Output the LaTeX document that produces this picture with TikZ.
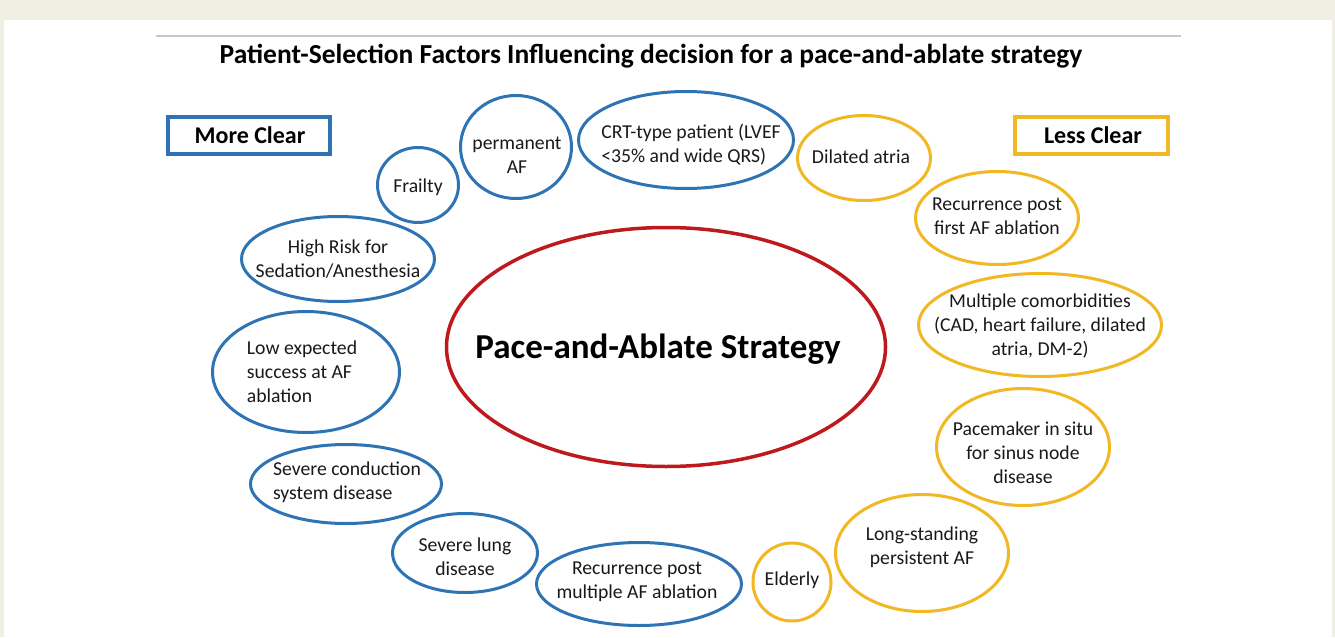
\documentclass[tikz,border=0pt]{standalone}
\usepackage{fontspec}
\setmainfont{Carlito}
\usetikzlibrary{shapes.geometric}
\definecolor{beige}{HTML}{F0EFE4}
\definecolor{pblue}{HTML}{2E74B5}
\definecolor{pgold}{HTML}{F2B824}
\definecolor{pred}{HTML}{BE1A1E}
\definecolor{rule}{HTML}{C8C8C8}
\tikzset{
  bub/.style={ellipse, draw, line width=3pt, inner sep=0pt},
  bluebub/.style={bub, draw=pblue},
  goldbub/.style={bub, draw=pgold},
  txt/.style={font=\fontsize{19.7}{24}\selectfont, align=center, inner sep=0pt, text=black!90},
  txtl/.style={txt, align=left},
  hdrbox/.style={draw, line width=4pt, minimum width=162pt, minimum height=37pt, inner sep=0pt},
  hdr/.style={font=\fontsize{24}{28}\bfseries\selectfont, inner sep=0pt}
}
\begin{document}
\begin{tikzpicture}[x=1pt,y=-1pt]
\useasboundingbox (0,0) rectangle (1335,637);
\fill[beige] (0,0) rectangle (1335,637);
\fill[white] (4,20) rectangle (1332,637);
\coordinate (ruleL) at (156,36);
\coordinate (ruleR) at (1181,36);
\draw[rule, line width=1.2pt] (ruleL) -- (ruleR);
\node[font=\fontsize{27.5}{32}\bfseries\selectfont, inner sep=0pt, anchor=base] (title) at (651,63) {Patient-Selection Factors Influencing decision for a pace-and-ablate strategy};

\node[hdrbox, draw=pblue] (moreBox) at (249,135) {};
\node[hdr, anchor=base] (moreTxt) at (250,143) {More Clear};
\node[hdrbox, draw=pgold, minimum width=153pt] (lessBox) at (1091,135) {};
\node[hdr, anchor=base] (lessTxt) at (1093,143) {Less Clear};

% central
\node[ellipse, draw=pred, line width=3.5pt, minimum width=439pt, minimum height=239pt, inner sep=0pt] (center) at (666,347) {};
\node[font=\fontsize{35}{40}\bfseries\selectfont, inner sep=0pt, anchor=base] (centerTxt) at (658,358) {Pace-and-Ablate Strategy};

% blue
\node[bluebub, minimum width=111pt, minimum height=103pt] (b1) at (516,147) {};
\node[txt] (t1) at (517,155) {permanent\\AF};
\node[bluebub, minimum width=215pt, minimum height=97pt] (b2) at (686,140) {};
\node[txtl] (t2) at (691,145) {CRT-type patient (LVEF\\<35\% and wide QRS)};
\node[bluebub, minimum width=81pt, minimum height=75pt] (b3) at (418,185) {};
\node[txt] (t3) at (418,187) {Frailty};
\node[bluebub, minimum width=193pt, minimum height=85pt] (b4) at (338,259) {};
\node[txt] (t4) at (338,259) {High Risk for\\Sedation/Anesthesia};
\node[bluebub, minimum width=187pt, minimum height=121pt] (b5) at (306,372) {};
\node[txtl] (t5) at (302,372) {Low expected\\success at AF\\ablation};
\node[bluebub, minimum width=191pt, minimum height=79pt] (b6) at (346,484) {};
\node[txtl] (t6) at (347,482) {Severe conduction\\system disease};
\node[bluebub, minimum width=145pt, minimum height=79pt] (b7) at (465,553) {};
\node[txt] (t7) at (465,557) {Severe lung\\disease};
\node[bluebub, minimum width=205pt, minimum height=83pt] (b8) at (639,584) {};
\node[txt] (t8) at (637,582) {Recurrence post\\multiple AF ablation};

% gold
\node[goldbub, minimum width=133pt, minimum height=85pt] (o1) at (864,158) {};
\node[txt] (u1) at (861,157) {Dilated atria};
\node[goldbub, minimum width=163pt, minimum height=93pt] (o2) at (997,218) {};
\node[txt] (u2) at (997,216) {Recurrence post\\first AF ablation};
\node[goldbub, minimum width=243pt, minimum height=103pt] (o3) at (1040,325) {};
\node[txt] (u3) at (1040,326) {Multiple comorbidities\\(CAD, heart failure, dilated\\atria, DM-2)};
\node[goldbub, minimum width=173pt, minimum height=117pt] (o4) at (1023,447) {};
\node[txt] (u4) at (1023,453) {Pacemaker in situ\\for sinus node\\disease};
\node[goldbub, minimum width=173pt, minimum height=117pt] (o5) at (922,553) {};
\node[txt] (u5) at (922,547) {Long-standing\\persistent AF};
\node[goldbub, minimum width=78pt, minimum height=78pt] (o6) at (792,582) {};
\node[txt] (u6) at (792,580) {Elderly};
\end{tikzpicture}
\end{document}
